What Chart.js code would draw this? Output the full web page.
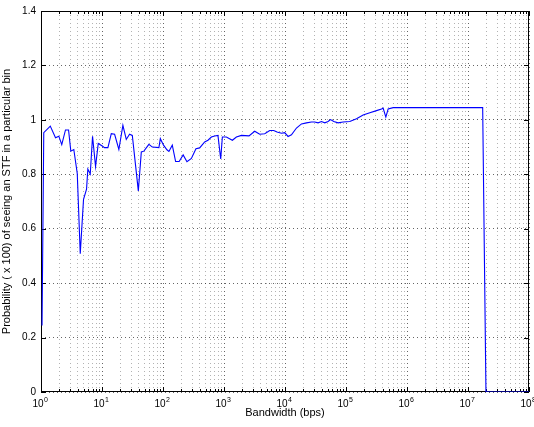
<!DOCTYPE html>
<html>
<head>
<meta charset="utf-8">
<script src="https://cdn.jsdelivr.net/npm/chart.js@4.4.1/dist/chart.umd.min.js"></script>
<style>
  html, body { margin: 0; padding: 0; background: #ffffff; }
  #wrap { width: 534px; height: 427px; }
</style>
</head>
<body>
<div id="wrap"><canvas id="c" width="534" height="427"></canvas></div>
<script>
// Bin centres (bps) and the probability measured in each bin
const bandwidth = [
  1.04, 1.11, 1.42, 1.73, 1.96, 2.19, 2.52, 2.83, 3.08, 3.45,
  3.93, 4.40, 4.98, 5.58, 5.86, 6.42, 7.00, 7.84, 8.68, 10.1,
  11.0, 12.5, 14.2, 16.1, 18.9, 22.0, 25.0, 28.3, 31.4, 39.4,
  44.1, 48.6, 58.7, 66.8, 85.7, 90.4, 102, 116, 125, 142,
  161, 184, 214, 247, 292, 347, 399, 482, 546, 621,
  703, 796, 883, 940, 1094, 1373, 1596, 1929, 2570, 3186,
  3846, 4654, 5620, 6537, 7400, 8750, 9900, 11220, 12760, 15420,
  18620, 22490, 27160, 30760, 34830, 39630, 44880, 50820, 55700, 63100,
  74200, 89600, 115400, 148600, 190800, 246000, 316300, 382300, 406000, 450000,
  491000, 593000, 1.74e7, 1.97e7, 1e8
];
const probability = [
  0.244, 0.953, 0.977, 0.934, 0.940, 0.909, 0.963, 0.963, 0.885, 0.891,
  0.803, 0.508, 0.708, 0.745, 0.819, 0.801, 0.940, 0.828, 0.913, 0.904,
  0.898, 0.898, 0.949, 0.947, 0.891, 0.980, 0.928, 0.947, 0.943, 0.739,
  0.882, 0.885, 0.910, 0.900, 0.898, 0.931, 0.907, 0.890, 0.884, 0.907,
  0.847, 0.847, 0.871, 0.846, 0.858, 0.894, 0.897, 0.919, 0.925, 0.937,
  0.941, 0.943, 0.856, 0.937, 0.937, 0.925, 0.937, 0.943, 0.941, 0.958,
  0.947, 0.949, 0.961, 0.961, 0.955, 0.951, 0.953, 0.939, 0.945, 0.970,
  0.985, 0.989, 0.992, 0.992, 0.989, 0.994, 0.989, 0.994, 1.001, 0.994,
  0.989, 0.992, 0.994, 1.004, 1.018, 1.026, 1.034, 1.040, 1.043, 1.010,
  1.040, 1.045, 1.045, 0, 0
];

// Axis ticks
const xDecadeExponents = [0, 1, 2, 3, 4, 5, 6, 7, 8];
const xMinorMultipliers = [2, 3, 4, 5, 6, 7, 8, 9];
const yTickValues = [0, 0.2, 0.4, 0.6, 0.8, 1, 1.2, 1.4];

const FONT = '"Liberation Sans", Arial, Helvetica, sans-serif';

const xGridValues = [];
xDecadeExponents.forEach(e => {
  xGridValues.push(Math.pow(10, e));
  if (e < 8) xMinorMultipliers.forEach(m => xGridValues.push(m * Math.pow(10, e)));
});
const isDecade = v => Math.abs(Math.log10(v) - Math.round(Math.log10(v))) < 1e-9;

// Box around the plot area plus inward tick marks on all four sides
const boxAndTicks = {
  id: 'boxAndTicks',
  beforeDatasetsDraw(chart) {
    const { ctx, chartArea: a, scales: { x, y } } = chart;
    ctx.save();
    ctx.strokeStyle = '#000';
    ctx.lineWidth = 1;
    ctx.setLineDash([]);
    ctx.strokeRect(a.left + 0.5, a.top + 0.5, a.right - a.left - 1, a.bottom - a.top - 1);
    ctx.beginPath();
    yTickValues.forEach(v => {
      const py = Math.round(y.getPixelForValue(v)) + 0.5;
      ctx.moveTo(a.left, py); ctx.lineTo(a.left + 5, py);
      ctx.moveTo(a.right, py); ctx.lineTo(a.right - 5, py);
    });
    xGridValues.forEach(v => {
      const px = Math.round(x.getPixelForValue(v)) + 0.5;
      const len = isDecade(v) ? 5 : 3;
      ctx.moveTo(px, a.bottom); ctx.lineTo(px, a.bottom - len);
      ctx.moveTo(px, a.top); ctx.lineTo(px, a.top + len);
    });
    ctx.stroke();
    ctx.restore();
  },
  // Power-of-ten labels on the bandwidth axis: "10" with a raised exponent
  afterDraw(chart) {
    const { ctx, chartArea: a, scales: { x } } = chart;
    ctx.save();
    ctx.fillStyle = '#000';
    ctx.textBaseline = 'alphabetic';
    ctx.textAlign = 'left';
    xDecadeExponents.forEach(e => {
      const px = x.getPixelForValue(Math.pow(10, e));
      ctx.font = '10px ' + FONT;
      const w1 = ctx.measureText('10').width;
      ctx.font = '7px ' + FONT;
      const w2 = ctx.measureText(String(e)).width;
      const start = px - 1 - (w1 + w2) / 2;
      ctx.font = '10px ' + FONT;
      ctx.fillText('10', start, a.bottom + 15);
      ctx.font = '7px ' + FONT;
      ctx.fillText(String(e), start + w1 + 0.5, a.bottom + 10);
    });
    ctx.restore();
  }
};

new Chart(document.getElementById('c'), {
  type: 'line',
  data: {
    datasets: [{
      data: bandwidth.map((b, i) => ({ x: b, y: probability[i] })),
      borderColor: '#0000ff',
      borderWidth: 1.1,
      pointRadius: 0,
      tension: 0,
      fill: false
    }]
  },
  options: {
    responsive: false,
    animation: false,
    devicePixelRatio: 1,
    layout: { padding: { left: 0, right: 5, top: 8, bottom: 0 } },
    plugins: { legend: { display: false }, tooltip: { enabled: false } },
    scales: {
      x: {
        type: 'logarithmic',
        min: 1,
        max: 1e8,
        afterBuildTicks: s => { s.ticks = xGridValues.map(v => ({ value: v })); },
        afterFit: s => { s.height = 35; },
        ticks: { display: false },
        grid: {
          drawTicks: false,
          lineWidth: 1,
          color: ctx => (ctx.tick && isDecade(ctx.tick.value)) ? 'rgba(0,0,0,0.6)' : 'rgba(0,0,0,0.3)'
        },
        border: { display: false, dash: [1, 3] },
        title: {
          display: true,
          text: 'Bandwidth (bps)',
          color: '#000',
          font: { family: FONT, size: 11 },
          padding: { top: 0, bottom: 7 }
        }
      },
      y: {
        min: 0,
        max: 1.4,
        afterBuildTicks: s => { s.ticks = yTickValues.map(v => ({ value: v })); },
        afterFit: s => { s.width = 41; },
        ticks: {
          padding: 5,
          color: '#000',
          font: { family: FONT, size: 10 },
          callback: v => String(Math.round(v * 10) / 10)
        },
        grid: { drawTicks: false, lineWidth: 1, color: 'rgba(0,0,0,0.6)' },
        border: { display: false, dash: [1, 3] },
        title: {
          display: true,
          text: 'Probability ( x 100) of seeing an STF in a particular bin',
          color: '#000',
          font: { family: FONT, size: 11 },
          padding: { top: 0, bottom: 0 }
        }
      }
    }
  },
  plugins: [boxAndTicks]
});
</script>
</body>
</html>
